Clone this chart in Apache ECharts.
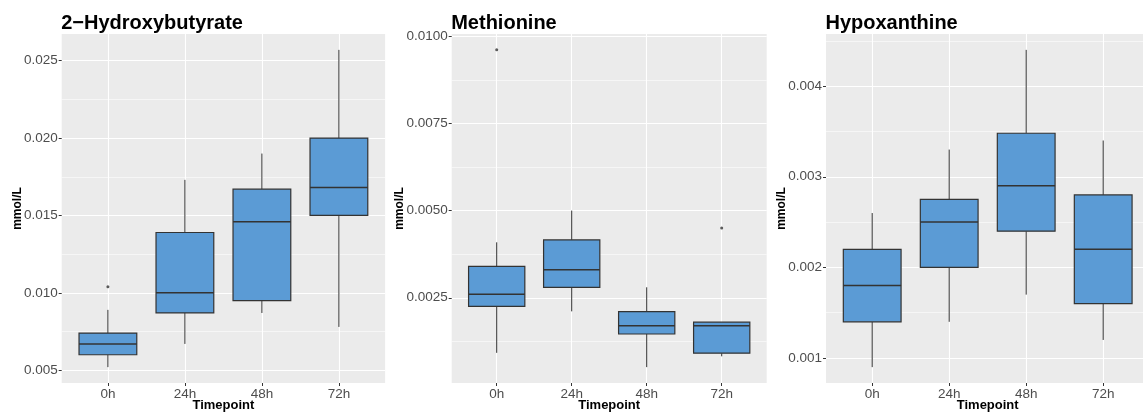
<!DOCTYPE html>
<html>
<head>
<meta charset="utf-8">
<script src="https://cdn.jsdelivr.net/npm/echarts@6/dist/echarts.min.js"></script>
<style>
  html, body { margin: 0; padding: 0; background: #ffffff; }
  #chart { width: 1143px; height: 414px; }
</style>
</head>
<body>
<div id="chart"></div>
<script>
// Timepoints shared by all three panels
const timepoints = ['0h', '24h', '48h', '72h'];

// Panel titles
const titles = ['2\u2212Hydroxybutyrate', 'Methionine', 'Hypoxanthine'];

// Box statistics per timepoint: [lower whisker, Q1, median, Q3, upper whisker] (mmol/L)
const hydroxybutyrateBoxes = [
  [0.0052, 0.0060, 0.0067, 0.0074, 0.0089],
  [0.0067, 0.0087, 0.0100, 0.0139, 0.0173],
  [0.0087, 0.0095, 0.0146, 0.0167, 0.0190],
  [0.0078, 0.0150, 0.0168, 0.0200, 0.0257]
];
const methionineBoxes = [
  [0.00092, 0.00225, 0.00260, 0.00340, 0.00409],
  [0.00211, 0.00280, 0.00330, 0.00416, 0.00500],
  [0.00051, 0.00146, 0.00170, 0.00210, 0.00280],
  [0.00082, 0.00091, 0.00170, 0.00180, 0.00180]
];
const hypoxanthineBoxes = [
  [0.00090, 0.00140, 0.00180, 0.00220, 0.00260],
  [0.00140, 0.00200, 0.00250, 0.00275, 0.00330],
  [0.00170, 0.00240, 0.00290, 0.00348, 0.00440],
  [0.00120, 0.00160, 0.00220, 0.00280, 0.00340]
];

// Outlying observations: [timepoint index, value]
const hydroxybutyrateOutliers = [[0, 0.0104]];
const methionineOutliers = [[0, 0.00961], [3, 0.00450]];
const hypoxanthineOutliers = [];

// Major and minor gridline / tick values for each panel's y axis
const hydroxybutyrateTicks = [0.005, 0.010, 0.015, 0.020, 0.025];
const hydroxybutyrateMinor = [0.0075, 0.0125, 0.0175, 0.0225];
const methionineTicks = [0.0025, 0.0050, 0.0075, 0.0100];
const methionineMinor = [0.00125, 0.00375, 0.00625, 0.00875];
const hypoxanthineTicks = [0.001, 0.002, 0.003, 0.004];
const hypoxanthineMinor = [0.0015, 0.0025, 0.0035, 0.0045];

const panels = [
  { title: titles[0], boxes: hydroxybutyrateBoxes, outliers: hydroxybutyrateOutliers,
    ticks: hydroxybutyrateTicks, minor: hydroxybutyrateMinor, digits: 3,
    left: 61.7, width: 323.4, nameGap: 38 },
  { title: titles[1], boxes: methionineBoxes, outliers: methionineOutliers,
    ticks: methionineTicks, minor: methionineMinor, digits: 4,
    left: 451.7, width: 315, nameGap: 46 },
  { title: titles[2], boxes: hypoxanthineBoxes, outliers: hypoxanthineOutliers,
    ticks: hypoxanthineTicks, minor: hypoxanthineMinor, digits: 3,
    left: 826, width: 323.4, nameGap: 38 }
];

const PANEL_TOP = 34;
const PANEL_HEIGHT = 349;
const FONT = '"Liberation Sans", Arial, Helvetica, sans-serif';
const FILL = '#5B9BD5';
const EDGE = '#333333';

const option = {
  animation: false,
  backgroundColor: '#ffffff',
  title: [],
  grid: [],
  xAxis: [],
  yAxis: [],
  series: []
};

panels.forEach((p, i) => {
  // data range with a 5% margin on each side
  let lo = Infinity, hi = -Infinity;
  p.boxes.forEach(b => { lo = Math.min(lo, b[0]); hi = Math.max(hi, b[4]); });
  p.outliers.forEach(o => { lo = Math.min(lo, o[1]); hi = Math.max(hi, o[1]); });
  const pad = (hi - lo) * 0.05;

  option.title.push({
    text: p.title,
    left: p.left - 0.5,
    top: 11,
    padding: 0,
    textStyle: { fontFamily: FONT, fontWeight: 'bold', fontSize: 20, color: '#000000', lineHeight: 24 }
  });

  option.grid.push({
    left: p.left, top: PANEL_TOP, width: p.width, height: PANEL_HEIGHT,
    show: true, backgroundColor: '#EBEBEB', borderWidth: 0,
    containLabel: false, outerBoundsMode: 'none'
  });

  option.xAxis.push({
    type: 'value', gridIndex: i, min: 0.4, max: 4.6,
    name: 'Timepoint', nameLocation: 'middle', nameGap: 16, nameMoveOverlap: false,
    nameTextStyle: { fontFamily: FONT, fontWeight: 'bold', fontSize: 13, color: '#000000' },
    axisLine: { show: false },
    axisTick: { show: true, length: 3, lineStyle: { color: EDGE, width: 1 }, customValues: [1, 2, 3, 4] },
    axisLabel: {
      customValues: [1, 2, 3, 4], margin: 4,
      fontFamily: FONT, fontSize: 13.5, color: '#4D4D4D',
      formatter: v => timepoints[Math.round(v) - 1]
    },
    splitLine: { show: true, lineStyle: { color: '#FFFFFF', width: 1.1 } }
  });

  // major y axis: labels, ticks and major gridlines
  option.yAxis.push({
    type: 'value', gridIndex: i, min: lo - pad, max: hi + pad,
    name: 'mmol/L', nameLocation: 'middle', nameRotate: 90, nameGap: p.nameGap, nameMoveOverlap: false,
    nameTextStyle: { fontFamily: FONT, fontWeight: 'bold', fontSize: 12, color: '#000000' },
    axisLine: { show: false },
    axisTick: { show: true, length: 3, lineStyle: { color: EDGE, width: 1 }, customValues: p.ticks },
    axisLabel: {
      customValues: p.ticks, margin: 4,
      fontFamily: FONT, fontSize: 13.5, color: '#4D4D4D',
      formatter: v => v.toFixed(p.digits)
    },
    splitLine: { show: true, lineStyle: { color: '#FFFFFF', width: 1.1 } }
  });
  // minor y axis: thin gridlines only
  option.yAxis.push({
    type: 'value', gridIndex: i, min: lo - pad, max: hi + pad,
    axisLine: { show: false },
    axisTick: { show: false, customValues: p.minor },
    axisLabel: { show: false },
    splitLine: { show: true, lineStyle: { color: '#FFFFFF', width: 0.55 } }
  });

  const boxData = p.boxes.map((b, k) => [k + 1].concat(b));

  option.series.push({
    type: 'custom',
    xAxisIndex: i,
    yAxisIndex: i * 2,
    data: boxData,
    encode: { x: 0, y: [1, 2, 3, 4, 5] },
    z: 3,
    renderItem: (params, api) => {
      const x = api.value(0);
      const pMin = api.coord([x, api.value(1)]);
      const pQ1 = api.coord([x, api.value(2)]);
      const pMed = api.coord([x, api.value(3)]);
      const pQ3 = api.coord([x, api.value(4)]);
      const pMax = api.coord([x, api.value(5)]);
      const half = api.size([0.75, 0])[0] / 2;
      const cx = pMed[0];
      return {
        type: 'group',
        children: [
          { type: 'line', shape: { x1: cx, y1: pMax[1], x2: cx, y2: pQ3[1] },
            style: { stroke: EDGE, lineWidth: 1 } },
          { type: 'line', shape: { x1: cx, y1: pQ1[1], x2: cx, y2: pMin[1] },
            style: { stroke: EDGE, lineWidth: 1 } },
          { type: 'rect', shape: { x: cx - half, y: pQ3[1], width: half * 2, height: pQ1[1] - pQ3[1] },
            style: { fill: FILL, stroke: EDGE, lineWidth: 1.2 } },
          { type: 'line', shape: { x1: cx - half, y1: pMed[1], x2: cx + half, y2: pMed[1] },
            style: { stroke: EDGE, lineWidth: 1.5 } }
        ]
      };
    }
  });

  option.series.push({
    type: 'scatter',
    xAxisIndex: i,
    yAxisIndex: i * 2,
    data: p.outliers.map(o => [o[0] + 1, o[1]]),
    symbol: 'circle',
    symbolSize: 3,
    itemStyle: { color: EDGE },
    z: 4
  });
});

const chart = echarts.init(document.getElementById('chart'), null, { renderer: 'canvas' });
chart.setOption(option);
</script>
</body>
</html>
